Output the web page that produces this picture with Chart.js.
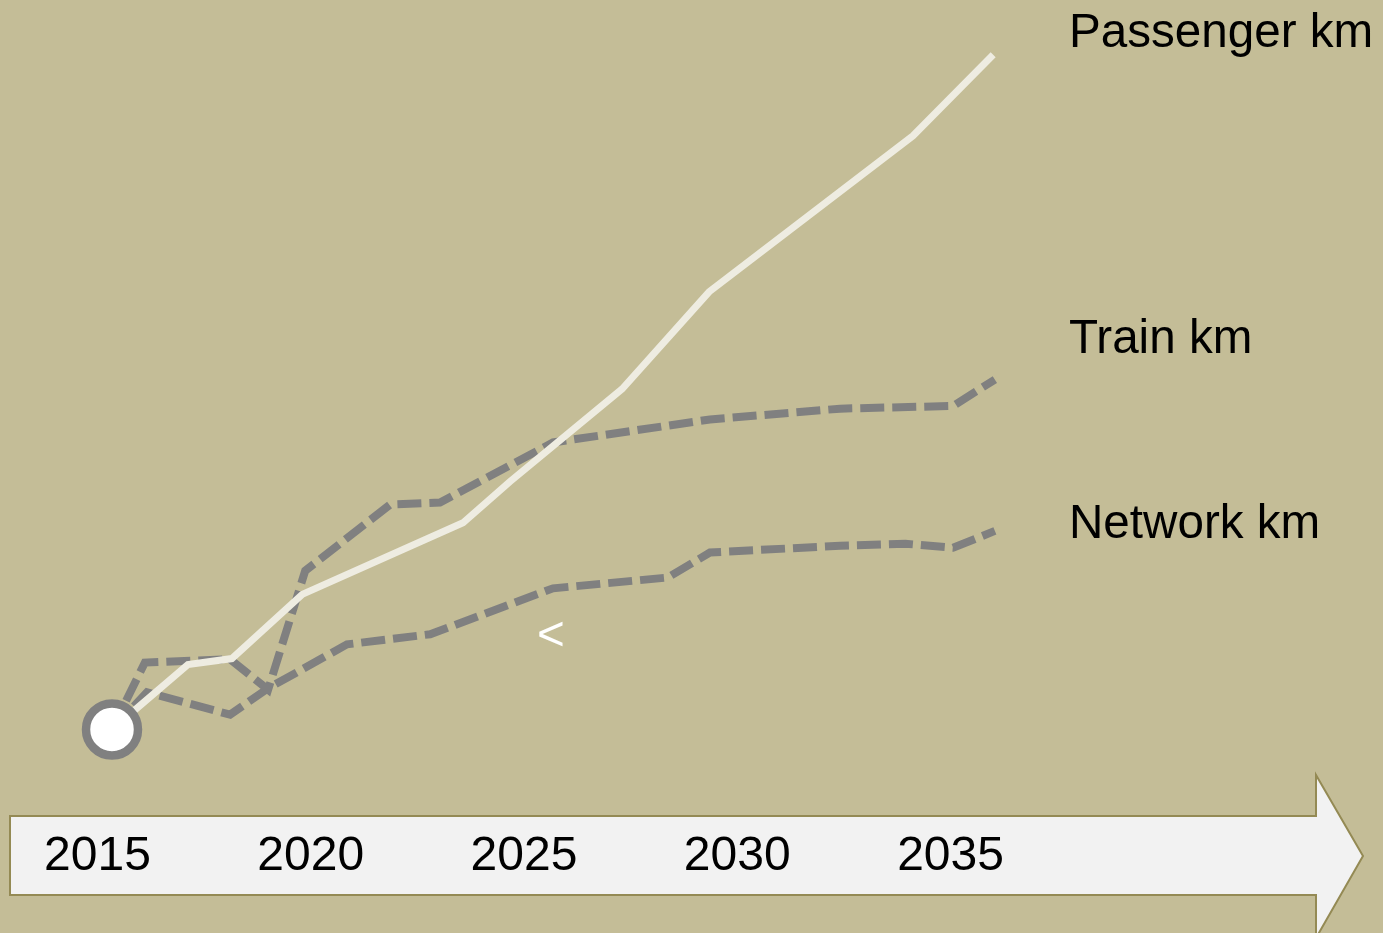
<!DOCTYPE html>
<html>
<head>
<meta charset="utf-8">
<title>Passenger, train and network km</title>
<script src="https://cdn.jsdelivr.net/npm/chart.js@4.4.1/dist/chart.umd.min.js"></script>
<style>
	html, body {margin:0; padding:0; background:#C4BD97;}
	#box {width:1383px; height:933px; position:relative;}
</style>
</head>
<body>
<div id="box"><canvas id="TimelineChart"></canvas></div>
<script>
//tick labels on the arrow
var tickYears = [2015, 2020, 2025, 2030, 2035];
var seriesNames = ["Passenger km", "Train km", "Network km"];

//index, start year = 100
var passengerYears = [2015.34, 2017.12, 2018.15, 2019.80, 2023.57, 2024.67, 2027.30, 2029.34, 2034.12, 2036.00];
var passengerIndex = [100, 109.6, 110.5, 120.0, 130.6, 136.7, 150.4, 164.8, 187.9, 199.9];

var trainYears = [2015.34, 2016.11, 2018.11, 2019.00, 2019.87, 2021.86, 2023.03, 2025.68, 2029.36, 2032.41, 2035.06, 2036.04];
var trainIndex = [100, 109.9, 110.4, 105.9, 123.5, 133.3, 133.6, 142.5, 145.9, 147.5, 147.9, 151.8];

var networkYears = [2015.34, 2016.16, 2018.11, 2019.00, 2020.85, 2022.80, 2025.68, 2028.37, 2029.36, 2032.41, 2033.94, 2035.06, 2036.04];
var networkIndex = [100, 105.5, 102.2, 106.1, 112.6, 114.1, 120.9, 122.5, 126.2, 127.2, 127.5, 126.9, 129.4];

var startYear = [2015.34];
var startIndex = [100];

//pair up x and y lists for the linear x axis
function toPoints(xs, ys){
	var pts = [];
	for(var i=0; i<xs.length; i++){
		pts.push({x: xs[i], y: ys[i]});
	}
	return pts;
}

var FONT = "'Liberation Sans', Arial, sans-serif";

//background and the timeline arrow, under the axis labels
var backdrop = {
	id: "backdrop",
	beforeDraw: function(chart){
		var c = chart.ctx;
		c.save();
		c.fillStyle = "#C4BD97";
		c.fillRect(0, 0, chart.width, chart.height);
		c.beginPath();
		c.moveTo(10, 816);
		c.lineTo(1316, 816);
		c.lineTo(1316, 775);
		c.lineTo(1363, 856);
		c.lineTo(1316, 938);
		c.lineTo(1316, 895);
		c.lineTo(10, 895);
		c.closePath();
		c.fillStyle = "#F2F2F2";
		c.fill();
		c.lineWidth = 2;
		c.strokeStyle = "#948A54";
		c.stroke();
		c.restore();
	},
	afterDraw: function(chart){
		//series names at the right hand side
		var c = chart.ctx;
		var spots = [47, 353, 538];
		c.save();
		c.font = "47.6px " + FONT;
		c.textBaseline = "alphabetic";
		c.textAlign = "left";
		c.fillStyle = "#000000";
		for(var i=0; i<seriesNames.length; i++){
			c.fillText(seriesNames[i], 1069, spots[i]);
		}
		c.fillStyle = "#FFFFFF";
		c.fillText("<", 537, 650);
		c.restore();
	}
};

new Chart("TimelineChart", {
	type: "line",
	data: {
		datasets: [{
			label: "start",
			data: toPoints(startYear, startIndex),
			showLine: false,
			pointRadius: 26,
			pointBorderWidth: 8.5,
			pointBackgroundColor: "#FFFFFF",
			pointBorderColor: "#808080"
		}, {
			label: seriesNames[0],
			data: toPoints(passengerYears, passengerIndex),
			borderColor: "#EEECE1",
			borderWidth: 7,
			pointRadius: 0,
			fill: false
		}, {
			label: seriesNames[1],
			data: toPoints(trainYears, trainIndex),
			borderColor: "#808080",
			borderWidth: 8,
			borderDash: [24, 8],
			pointRadius: 0,
			fill: false
		}, {
			label: seriesNames[2],
			data: toPoints(networkYears, networkIndex),
			borderColor: "#808080",
			borderWidth: 8,
			borderDash: [24, 8],
			pointRadius: 0,
			fill: false
		}]
	},
	options: {
		responsive: true,
		maintainAspectRatio: false,
		animation: false,
		layout: {autoPadding: false, padding: {left: 0, right: 0, top: 0, bottom: 44}},
		plugins: {
			legend: {display: false},
			tooltip: {enabled: false}
		},
		scales: {
			x: {
				type: "linear",
				position: "bottom",
				min: 2012.714,
				max: 2045.14,
				afterBuildTicks: function(scale){
					scale.ticks = tickYears.map(function(v){return {value: v};});
				},
				grid: {display: false, drawTicks: false},
				border: {display: false},
				ticks: {
					color: "#000000",
					padding: 3,
					maxRotation: 0,
					autoSkip: false,
					font: {family: FONT, size: 48},
					callback: function(v){return String(v);}
				}
			},
			y: {
				display: false,
				min: 85.8,
				max: 208
			}
		}
	},
	plugins: [backdrop]
});
</script>
</body>
</html>
